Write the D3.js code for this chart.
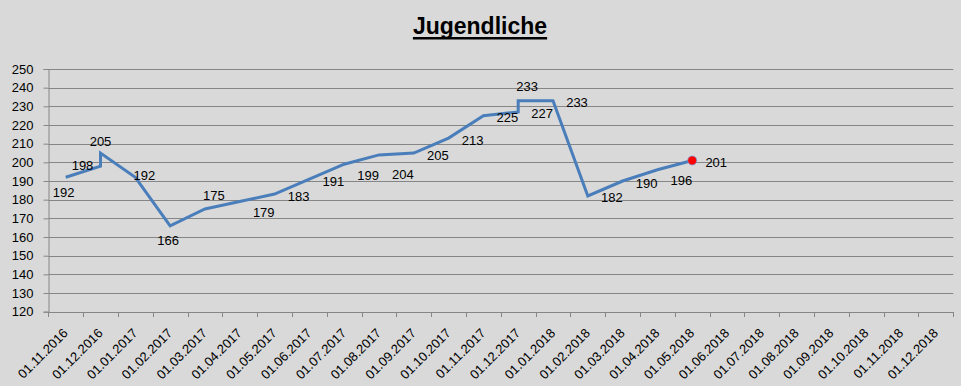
<!DOCTYPE html>
<html>
<head>
  <meta charset="utf-8">
  <script src="https://cdn.jsdelivr.net/npm/d3@7"></script>
  <style>
    body { margin: 0; background: #d9d9d9; }
    svg { display: block; font-family: "Liberation Sans", Arial, sans-serif; }
  </style>
</head>
<body>
<script>
  // month categories on the x axis
  var months = ["01.11.2016", "01.12.2016", "01.01.2017", "01.02.2017", "01.03.2017", "01.04.2017",
    "01.05.2017", "01.06.2017", "01.07.2017", "01.08.2017", "01.09.2017", "01.10.2017", "01.11.2017",
    "01.12.2017", "01.01.2018", "01.02.2018", "01.03.2018", "01.04.2018", "01.05.2018", "01.06.2018",
    "01.07.2018", "01.08.2018", "01.09.2018", "01.10.2018", "01.11.2018", "01.12.2018"];

  // month of each data point (two counts in some months)
  var pointMonth = ["01.11.2016", "01.12.2016", "01.12.2016", "01.01.2017", "01.02.2017", "01.03.2017",
    "01.04.2017", "01.05.2017", "01.06.2017", "01.07.2017", "01.08.2017", "01.09.2017", "01.10.2017",
    "01.11.2017", "01.12.2017", "01.12.2017", "01.01.2018", "01.02.2018", "01.03.2018", "01.04.2018",
    "01.05.2018"];

  var counts = [192, 198, 205, 192, 166, 175, 179, 183, 191, 199, 204, 205, 213, 225, 227, 233, 233,
    182, 190, 196, 201];

  // where excel put each data label
  var labelPos = ["b", "l", "a", "n", "b", "ar", "rb", "r", "r", "rb", "rbb", "r", "r", "r", "r", "ar",
    "r", "r", "r", "rb", "r"];

  var yTicks = d3.range(120, 251, 10);

  var W = 961, H = 386;
  var svg = d3.select("body").append("svg").attr("width", W).attr("height", H);

  var x = d3.scaleBand().domain(months).range([48.3, 953.3]).paddingInner(0).paddingOuter(0);
  var y = d3.scaleLinear().domain([120, 250]).range([311.7, 69]);

  // title
  var title = svg.append("text")
    .attr("x", 480).attr("y", 34)
    .attr("text-anchor", "middle")
    .style("font-size", "23px").style("font-weight", "bold")
    .text("Jugendliche");
  var tb = title.node().getBBox();
  svg.append("rect")
    .attr("x", tb.x).attr("y", 37).attr("width", tb.width).attr("height", 2.5)
    .attr("fill", "#000");

  // gridlines
  svg.append("g").selectAll("line").data(yTicks).enter().append("line")
    .attr("x1", 48.3).attr("x2", 953.3)
    .attr("y1", function(d) { return Math.round(y(d)) + 0.5; })
    .attr("y2", function(d) { return Math.round(y(d)) + 0.5; })
    .attr("stroke", "#868686").attr("stroke-width", 1);

  // y axis
  var yAxis = svg.append("g").attr("transform", "translate(48.5,0)")
    .call(d3.axisLeft(y).tickValues(yTicks).tickSize(5).tickPadding(10));
  yAxis.select(".domain").attr("stroke", "#868686");
  yAxis.selectAll(".tick line").attr("stroke", "#868686");
  yAxis.selectAll("text").style("font-size", "13px").attr("fill", "#000");

  // x axis, ticks between months
  var edges = months.map(function(m) { return x(m); }).concat([x.range()[1]]);
  var xg = svg.append("g");
  xg.append("line").attr("x1", 48.3).attr("x2", 953.3).attr("y1", 312.5).attr("y2", 312.5)
    .attr("stroke", "#868686");
  xg.selectAll("line.tk").data(edges).enter().append("line").attr("class", "tk")
    .attr("x1", function(d) { return Math.round(d) + 0.5; })
    .attr("x2", function(d) { return Math.round(d) + 0.5; })
    .attr("y1", 312).attr("y2", 317)
    .attr("stroke", "#868686");
  xg.selectAll("text").data(months).enter().append("text")
    .attr("transform", function(d) {
      return "translate(" + (x(d) + x.bandwidth() / 2 + 3) + ",334) rotate(-45)";
    })
    .attr("text-anchor", "end")
    .style("font-size", "13px")
    .text(function(d) { return d; });

  var pts = counts.map(function(v, i) {
    return { x: x(pointMonth[i]) + x.bandwidth() / 2, y: y(v), v: v, pos: labelPos[i] };
  });

  // the line
  svg.append("path")
    .datum(pts)
    .attr("fill", "none")
    .attr("stroke", "#4a7ebb")
    .attr("stroke-width", 3)
    .attr("stroke-linejoin", "miter")
    .attr("d", d3.line().x(function(d) { return d.x; }).y(function(d) { return d.y; }));

  // last point in red
  var last = pts[pts.length - 1];
  svg.append("circle")
    .attr("cx", last.x).attr("cy", last.y).attr("r", 4.5)
    .attr("fill", "#ff0000").attr("stroke", "#7b9bd0").attr("stroke-width", 0.8);

  // data labels
  var offs = {
    r: [24, 2], b: [-2, 15], a: [0, -12], l: [-18, -1], n: [9, -2],
    rb: [24, 11], rbb: [24, 20], ar: [9, -14]
  };
  svg.append("g").selectAll("text").data(pts).enter().append("text")
    .attr("x", function(d) { return d.x + offs[d.pos][0]; })
    .attr("y", function(d) { return d.y + offs[d.pos][1] + 4.5; })
    .attr("text-anchor", "middle")
    .style("font-size", "13px")
    .text(function(d) { return d.v; });
</script>
</body>
</html>
